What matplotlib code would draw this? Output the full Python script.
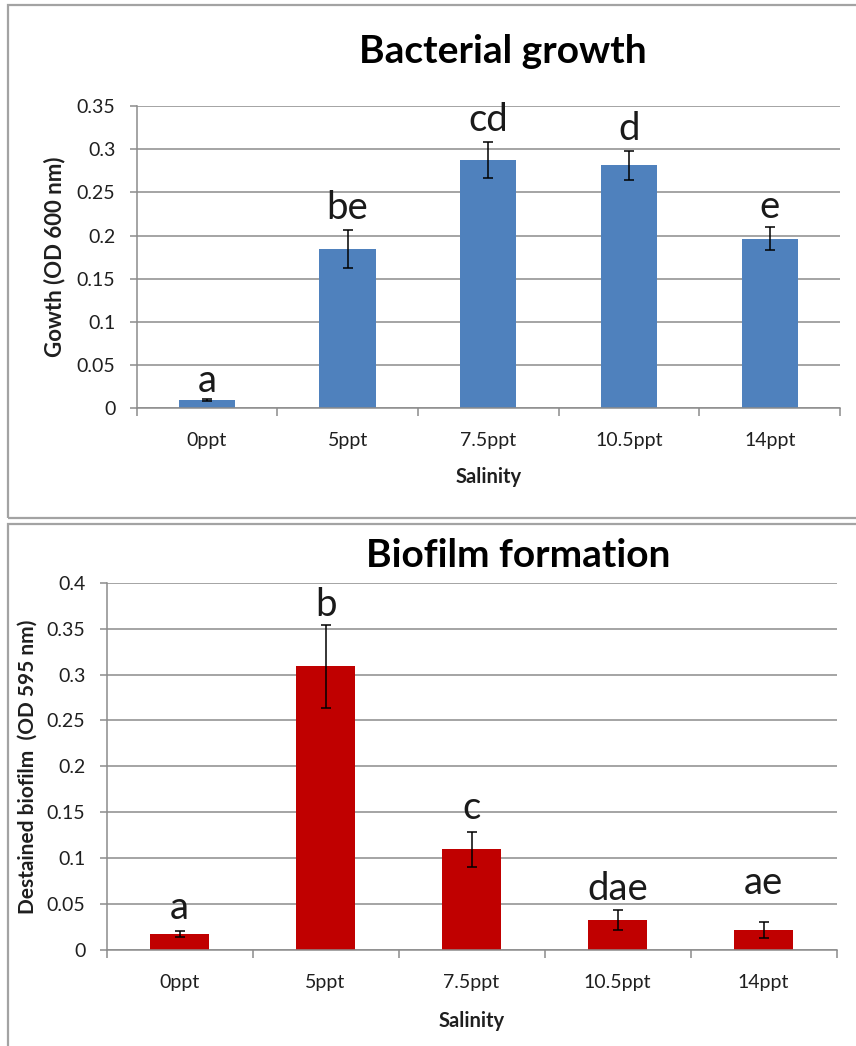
import matplotlib
matplotlib.use("Agg")
import matplotlib.pyplot as plt
from matplotlib.patches import Rectangle
import numpy as np

plt.rcParams['font.family'] = ['Lato', 'DejaVu Sans']

# ---- data ----
categories = ["0ppt", "5ppt", "7.5ppt", "10.5ppt", "14ppt"]

growth_values = [0.0096, 0.1845, 0.2875, 0.2813, 0.1964]
growth_errors = [0.001, 0.0218, 0.021, 0.0165, 0.0135]
growth_letters = ["a", "be", "cd", "d", "e"]
growth_yticks = [0, 0.05, 0.1, 0.15, 0.2, 0.25, 0.3, 0.35]
growth_yticklabels = ["0", "0.05", "0.1", "0.15", "0.2", "0.25", "0.3", "0.35"]

biofilm_values = [0.0174, 0.309, 0.1097, 0.0327, 0.0218]
biofilm_errors = [0.0035, 0.045, 0.019, 0.011, 0.009]
biofilm_letters = ["a", "b", "c", "dae", "ae"]
biofilm_yticks = [0, 0.05, 0.1, 0.15, 0.2, 0.25, 0.3, 0.35, 0.4]
biofilm_yticklabels = ["0", "0.05", "0.1", "0.15", "0.2", "0.25", "0.3", "0.35", "0.4"]

# ---- style ----
W, H = 856, 1046
GRID = '#8c8c8c'
growth_label_offsets = [5, 8, 8, 8.3, 6.2]     # points above error bar
biofilm_label_offsets = [8.6, 6.5, 9.1, 7.2, 20]

fig = plt.figure(figsize=(W / 100, H / 100), dpi=100)


def px_rect(x0, y0, x1, y1):
    return [x0 / W, 1 - y1 / H, (x1 - x0) / W, (y1 - y0) / H]


# panel frames
for (x0, y0, x1, y1) in [(8, 5, 866, 518), (8, 524, 866, 1056)]:
    fig.patches.append(Rectangle((x0 / W, 1 - y1 / H), (x1 - x0) / W, (y1 - y0) / H,
                                 transform=fig.transFigure, fill=False,
                                 edgecolor='#a3a3a3', linewidth=1.6, zorder=0))


def draw_panel(rect, values, errors, letters, offsets, yticks, yticklabels,
               color, ylabel, ylabel_size, ylabel_x, xlabel_y, title, title_xy):
    ax = fig.add_axes(rect)
    x = np.arange(len(categories))
    ax.bar(x, values, width=0.4, color=color, zorder=2)
    ax.errorbar(x, values, yerr=errors, fmt='none', ecolor='black',
                elinewidth=1.1, capsize=3.6, capthick=1.1, zorder=3)
    for xi, v, e, lab, off in zip(x, values, errors, letters, offsets):
        ax.annotate(lab, (xi, v + e), xytext=(0, off), textcoords='offset points',
                    ha='center', va='baseline', fontsize=27.5, color='#1a1a1a')
    ax.set_xlim(-0.5, len(categories) - 0.5)
    ax.set_ylim(yticks[0], yticks[-1])
    ax.set_yticks(yticks)
    ax.set_yticklabels(yticklabels)
    ax.yaxis.grid(True, color=GRID, linewidth=1.1, zorder=1)
    ax.set_axisbelow(True)
    ax.set_xticks(np.arange(-0.5, len(categories)), minor=False)
    ax.set_xticklabels([])
    ax.set_xticks(x, minor=True)
    ax.set_xticklabels(categories, minor=True)
    ax.tick_params(axis='x', which='major', length=5.5, width=1.1, color=GRID, direction='out')
    ax.tick_params(axis='x', which='minor', length=0, pad=17, labelsize=14, labelcolor='#1f1f1f')
    ax.tick_params(axis='y', length=5.2, width=1.1, color=GRID, pad=10, labelsize=14,
                   labelcolor='#1f1f1f')
    for s in ['top', 'right']:
        ax.spines[s].set_visible(False)
    for s in ['left', 'bottom']:
        ax.spines[s].set_color(GRID)
        ax.spines[s].set_linewidth(1.1)
    ax.set_ylabel(ylabel, fontsize=ylabel_size, fontweight='bold', color='#1f1f1f')
    ax.yaxis.label.set_va('center')
    ax.yaxis.set_label_coords(ylabel_x, 0.5)
    ax.set_xlabel("Salinity", fontsize=14.5, fontweight='bold', color='#1f1f1f')
    ax.xaxis.label.set_va('top')
    ax.xaxis.set_label_coords(0.5, xlabel_y)
    fig.text(title_xy[0] / W, 1 - title_xy[1] / H, title, ha='center', va='baseline',
             fontsize=28, fontweight='bold', color='black')
    return ax


draw_panel(px_rect(136.6, 106, 840, 408.3), growth_values, growth_errors, growth_letters,
           growth_label_offsets, growth_yticks, growth_yticklabels, '#4F81BD',
           "Gowth (OD 600 nm)", 16, -0.116, -0.194, "Bacterial growth", (503, 63))

draw_panel(px_rect(106.5, 582.7, 836.5, 950), biofilm_values, biofilm_errors, biofilm_letters,
           biofilm_label_offsets, biofilm_yticks, biofilm_yticklabels, '#C00000',
           "Destained biofilm  (OD 595 nm)", 15, -0.1075, -0.166, "Biofilm formation", (518, 567))

fig.savefig("out.png", dpi=100)
